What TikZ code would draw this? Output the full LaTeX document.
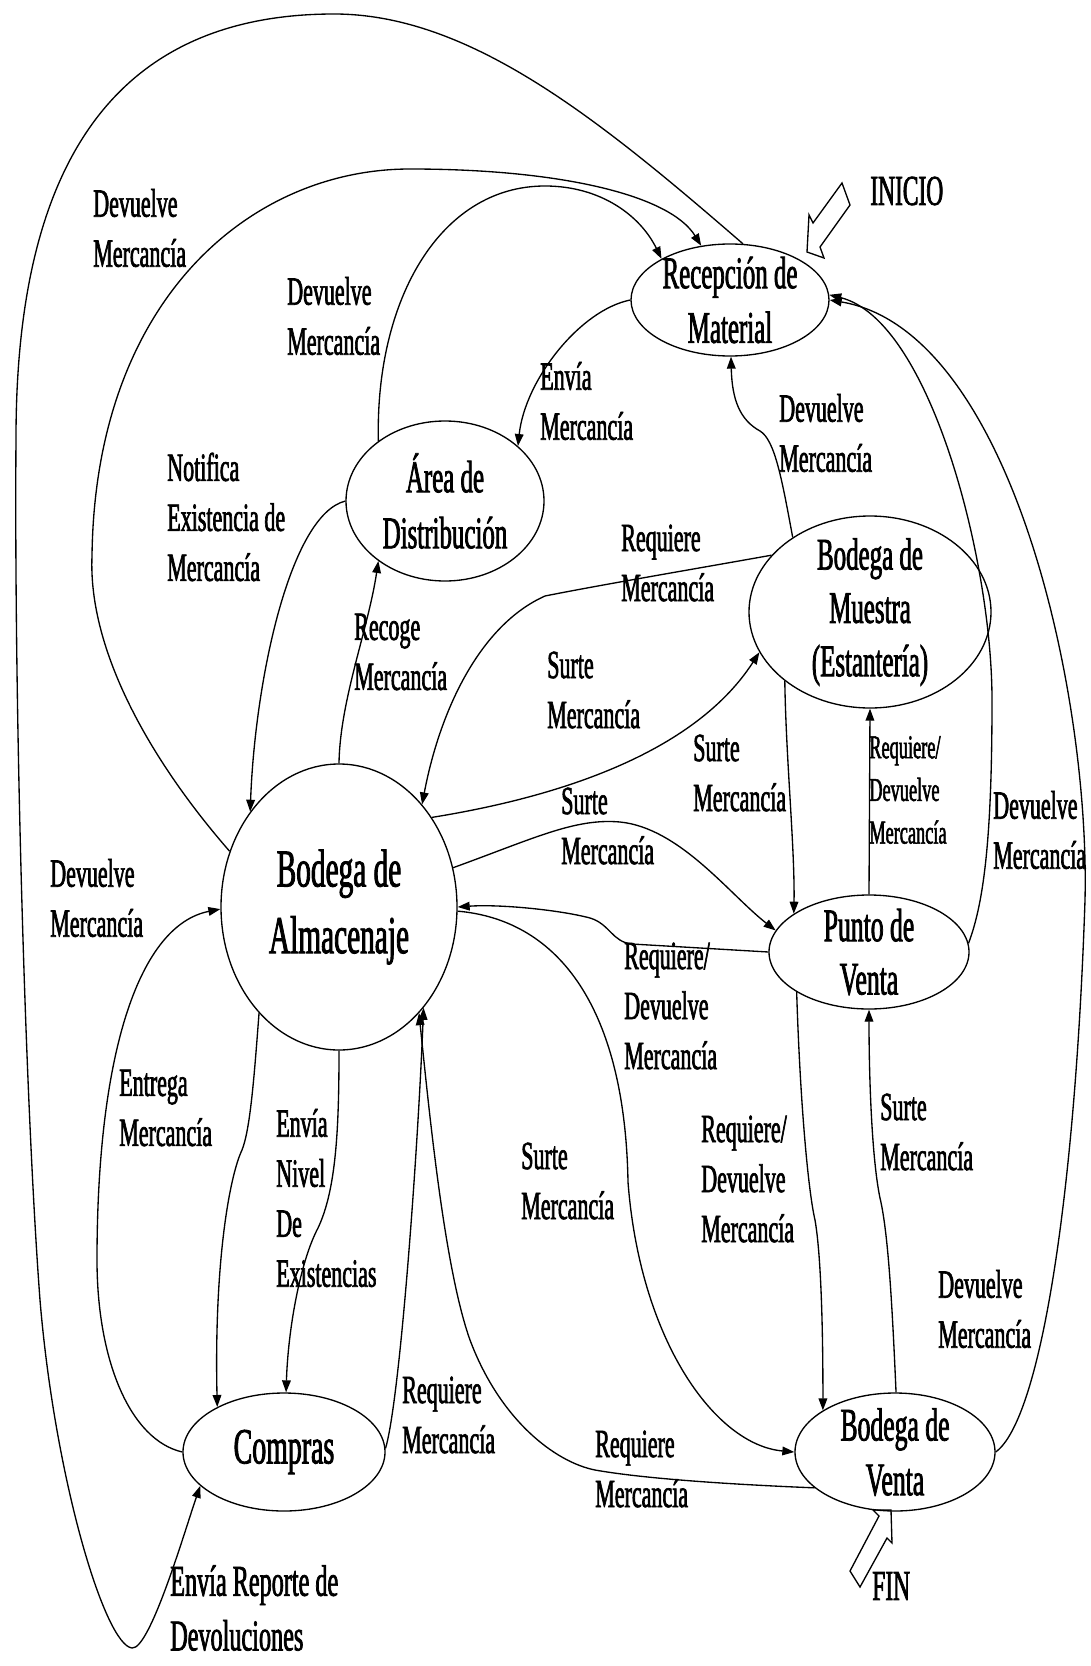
\documentclass[tikz,border=0pt]{standalone}
\usepackage{fontspec}
\setmainfont{Liberation Serif}[FakeStretch=0.55,FakeBold=1.6]
\usetikzlibrary{arrows.meta,shapes.geometric}

\tikzset{
  box/.style 2 args={ellipse, draw, line width=1pt, inner sep=0pt,
    minimum width=#1*0.75pt, minimum height=#2*0.75pt},
  flow/.style={line width=1pt, -{Triangle[length=9pt,width=6.5pt]}},
  blockarrow/.style={line width=1pt, line join=miter},
  nt/.style={align=center, inner sep=0pt, font=\fontsize{34}{41}\selectfont},
  lbl/.style={align=left, anchor=west, inner sep=0pt, font=\fontsize{30}{37.5}\selectfont},
  lblsmall/.style={lbl, font=\fontsize{25}{32}\selectfont},
  lblbig/.style={lbl, font=\fontsize{33}{41}\selectfont},
}

\begin{document}
\begin{tikzpicture}[x=0.75pt,y=-0.75pt]
\useasboundingbox (0,0) rectangle (1090,1666);
\fill[white] (0,0) rectangle (1090,1666);

% states
\node[box={198}{112}, label={[nt]center:Recepción de\\Material}] (rec) at (730,300) {};
\node[box={198}{160}, label={[nt,font=\fontsize{34}{42}\selectfont]center:Área de\\Distribución}] (area) at (445,501) {};
\node[box={242}{192}, label={[nt,font=\fontsize{34}{40}\selectfont]center:Bodega de\\Muestra\\(Estantería)}] (mue) at (870,612) {};
\node[box={236}{286}, label={[nt,font=\fontsize{40}{50}\selectfont]center:Bodega de\\Almacenaje}] (alm) at (339,907) {};
\node[box={200}{114}, label={[nt,font=\fontsize{35}{40}\selectfont]center:Punto de\\Venta}] (pun) at (869,952) {};
\node[box={202}{118}, label={[nt,font=\fontsize{38}{44}\selectfont]center:Compras}] (com) at (284,1452) {};
\node[box={200}{118}, label={[nt,font=\fontsize{35}{41}\selectfont]center:Bodega de\\Venta}] (ven) at (895,1452) {};

% start and end markers
\draw[blockarrow] (842,183) -- (813,223) -- (809,215) -- (807,252) -- (824,258) -- (820,247) -- (850,205) -- cycle;
\node[lbl, font=\fontsize{32}{38}\selectfont] (inicio) at (870,191) {INICIO};
\draw[blockarrow] (891,1510) -- (873,1510) -- (879,1516) -- (850,1571) -- (860,1587) -- (887,1538) -- (892,1543) -- cycle;
\node[lbl, font=\fontsize{32}{38}\selectfont] (fin) at (872,1586) {FIN};

% connectors
\draw[flow] (rec.77) .. controls (600,120) and (470,14) .. (334,14)
  .. controls (90,14) and (16,200) .. (16,438)
  .. controls (14,700) and (25,1100) .. (40,1300)
  .. controls (55,1480) and (105,1645) .. (132,1648)
  .. controls (150,1650) and (185,1530) .. (com.202);
\draw[flow] (alm.153) .. controls (150,760) and (88,650) .. (92,556)
  .. controls (95,300) and (250,169) .. (410,169)
  .. controls (560,169) and (670,195) .. (rec.118);
\draw[flow] (area.138) .. controls (375,300) and (440,186) .. (545,186)
  .. controls (600,186) and (640,215) .. (rec.149);
\draw[flow] (rec.180) .. controls (580,310) and (525,380) .. (area.37);
\draw[flow] (alm.90) .. controls (340,700) and (368,630) .. (area.222);
\draw[flow] (area.180) .. controls (290,515) and (255,680) .. (alm.133);
\draw[flow] (mue.150) .. controls (700,568) and (600,585) .. (545,596)
  .. controls (480,625) and (440,710) .. (alm.51);
\draw[flow] (alm.44) .. controls (540,800) and (690,760) .. (mue.200);
\draw[flow] (alm.19) .. controls (535,838) and (575,818) .. (620,822)
  .. controls (680,828) and (730,895) .. (pun.167);
\draw[flow] (pun.180) -- (632,944) .. controls (612,942) and (610,924) .. (590,918)
  .. controls (560,910) and (500,904) .. (alm.0);
\draw[flow] (alm.-2) .. controls (560,920) and (625,1010) .. (628,1182)
  .. controls (640,1340) and (715,1445) .. (ven.180);
\draw[flow] (com.2) .. controls (400,1400) and (418,1150) .. (alm.310);
\draw[flow] (ven.204) .. controls (720,1484) and (640,1478) .. (595,1470)
  .. controls (555,1462) and (500,1420) .. (470,1340)
  .. controls (445,1270) and (430,1120) .. (alm.307);
\draw[flow] (com.180) .. controls (130,1440) and (97,1360) .. (97,1260)
  .. controls (97,1050) and (140,925) .. (alm.181);
\draw[flow] (alm.233) .. controls (254,1080) and (250,1130) .. (242,1150)
  .. controls (230,1175) and (214,1260) .. (com.146);
\draw[flow] (alm.270) .. controls (339,1130) and (336,1190) .. (318,1228)
  .. controls (300,1262) and (288,1330) .. (com.88);
\draw[flow] (mue.136) .. controls (782,480) and (775,440) .. (760,431)
  .. controls (740,420) and (732,400) .. (rec.271);
\draw[flow] (mue.219) .. controls (786,760) and (795,850) .. (pun.153);
\draw[flow] (pun.90) -- (mue.270);
\draw[flow] (pun.5) .. controls (985,900) and (992,830) .. (992,700)
  .. controls (992,560) and (930,320) .. (rec.3);
\draw[flow] (ven.0) .. controls (1040,1420) and (1075,1200) .. (1085,900)
  .. controls (1090,690) and (1010,330) .. (rec.0);
\draw[flow] (ven.89) .. controls (892,1300) and (888,1232) .. (880,1198)
  .. controls (872,1160) and (869,1080) .. (pun.270);
\draw[flow] (pun.209) .. controls (800,1100) and (808,1190) .. (815,1220)
  .. controls (822,1260) and (823,1350) .. (ven.150);

% connector labels
\node[lbl] (l1) at (93,228) {Devuelve\\Mercancía};
\node[lbl] (l2) at (287,316) {Devuelve\\Mercancía};
\node[lbl] (l4) at (540,401) {Envía\\Mercancía};
\node[lbl] (l5) at (779,433) {Devuelve\\Mercancía};
\node[lbl] (l6) at (167,517) {Notifica\\Existencia de\\Mercancía};
\node[lbl] (l8) at (621,563) {Requiere\\Mercancía};
\node[lbl] (l9) at (354,652) {Recoge\\Mercancía};
\node[lbl] (l10) at (547,690) {Surte\\Mercancía};
\node[lbl] (l12) at (693,773) {Surte\\Mercancía};
\node[lblsmall] (l13) at (869,790) {Requiere/\\Devuelve\\Mercancía};
\node[lbl] (l14) at (993,830) {Devuelve\\Mercancía};
\node[lbl] (l15) at (561,826) {Surte\\Mercancía};
\node[lbl] (l16) at (50,898) {Devuelve\\Mercancía};
\node[lbl] (l18) at (624,1006) {Requiere/\\Devuelve\\Mercancía};
\node[lbl] (l20) at (119,1108) {Entrega\\Mercancía};
\node[lbl] (l21) at (276,1198) {Envía\\Nivel\\De\\Existencias};
\node[lbl] (l22) at (521,1181) {Surte\\Mercancía};
\node[lbl] (l23) at (701,1179) {Requiere/\\Devuelve\\Mercancía};
\node[lbl] (l24) at (880,1132) {Surte\\Mercancía};
\node[lbl] (l25) at (938,1309) {Devuelve\\Mercancía};
\node[lbl] (l26) at (402,1415) {Requiere\\Mercancía};
\node[lbl] (l28) at (595,1469) {Requiere\\Mercancía};
\node[lblbig] (l30) at (170,1608) {Envía Reporte de\\Devoluciones};
\end{tikzpicture}
\end{document}
